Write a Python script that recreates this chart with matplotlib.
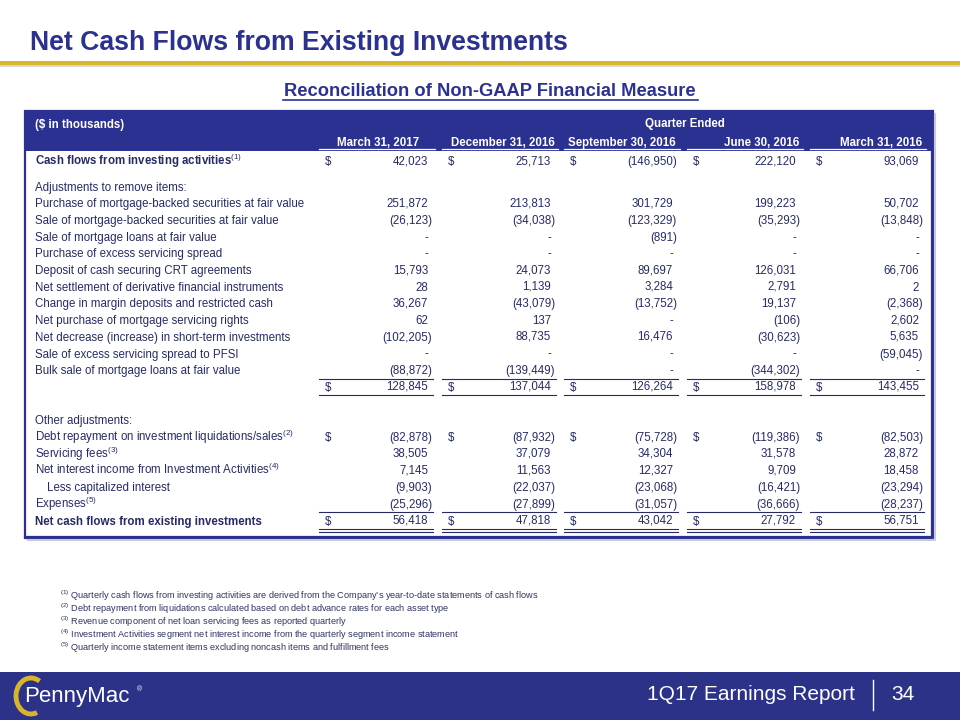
import matplotlib
matplotlib.use('Agg')
import matplotlib.pyplot as plt
from matplotlib.patches import Rectangle, Arc

plt.rcParams['font.family'] = ['Liberation Sans', 'DejaVu Sans']
plt.rcParams['mathtext.fontset'] = 'custom'
plt.rcParams['mathtext.rm'] = 'Liberation Sans'
plt.rcParams['mathtext.it'] = 'Liberation Sans:italic'
plt.rcParams['mathtext.bf'] = 'Liberation Sans:bold'

NAVY = '#2B3190'
TEXT = '#262B66'
GOLD = '#D9B52C'

# ---- data ----
quarters = ['March 31, 2017', 'December 31, 2016', 'September 30, 2016',
            'June 30, 2016', 'March 31, 2016']

cash_flows_investing = [42023, 25713, -146950, 222120, 93069]
purchase_mbs = [251872, 213813, 301729, 199223, 50702]
sale_mbs = [-26123, -34038, -123329, -35293, -13848]
sale_loans = [None, None, -891, None, None]
purchase_ess = [None, None, None, None, None]
deposit_crt = [15793, 24073, 89697, 126031, 66706]
net_settlement = [28, 1139, 3284, 2791, 2]
margin_deposits = [36267, -43079, -13752, 19137, -2368]
purchase_msr = [62, 137, None, -106, 2602]
short_term = [-102205, 88735, 16476, -30623, 5635]
sale_ess_pfsi = [None, None, None, None, -59045]
bulk_sale = [-88872, -139449, None, -344302, None]
subtotal = [128845, 137044, 126264, 158978, 143455]
debt_repayment = [-82878, -87932, -75728, -119386, -82503]
servicing_fees = [38505, 37079, 34304, 31578, 28872]
net_interest = [7145, 11563, 12327, 9709, 18458]
capitalized_interest = [-9903, -22037, -23068, -16421, -23294]
expenses = [-25296, -27899, -31057, -36666, -28237]
net_cash_flows = [56418, 47818, 43042, 27792, 56751]

footnotes = [
    "Quarterly cash flows from investing activities are derived from the Company\u2019s year-to-date statements of cash flows",
    "Debt repayment from liquidations calculated based on debt advance rates for each asset type",
    "Revenue component of net loan servicing fees as reported quarterly",
    "Investment Activities segment net interest income from the quarterly segment income statement",
    "Quarterly income statement items excluding noncash items and fulfillment fees",
]

# rows: (slot, label, values, bold, indent, dollar)
rows = [
    (0, r'Cash flows from investing activities$^{(1)}$', cash_flows_investing, True, 0, True),
    (1.5, 'Adjustments to remove items:', None, False, 0, False),
    (2.5, 'Purchase of mortgage-backed securities at fair value', purchase_mbs, False, 0, False),
    (3.5, 'Sale of mortgage-backed securities at fair value', sale_mbs, False, 0, False),
    (4.5, 'Sale of mortgage loans at fair value', sale_loans, False, 0, False),
    (5.5, 'Purchase of excess servicing spread', purchase_ess, False, 0, False),
    (6.5, 'Deposit of cash securing CRT agreements', deposit_crt, False, 0, False),
    (7.5, 'Net settlement of derivative financial instruments', net_settlement, False, 0, False),
    (8.5, 'Change in margin deposits and restricted cash', margin_deposits, False, 0, False),
    (9.5, 'Net purchase of mortgage servicing rights', purchase_msr, False, 0, False),
    (10.5, 'Net decrease (increase) in short-term investments', short_term, False, 0, False),
    (11.5, 'Sale of excess servicing spread to PFSI', sale_ess_pfsi, False, 0, False),
    (12.5, 'Bulk sale of mortgage loans at fair value', bulk_sale, False, 0, False),
    (13.5, '', subtotal, False, 0, True),
    (15.5, 'Other adjustments:', None, False, 0, False),
    (16.5, r'Debt repayment on investment liquidations/sales$^{(2)}$', debt_repayment, False, 0, True),
    (17.5, r'Servicing fees$^{(3)}$', servicing_fees, False, 0, False),
    (18.5, r'Net interest income from Investment Activities$^{(4)}$', net_interest, False, 0, False),
    (19.5, 'Less capitalized interest', capitalized_interest, False, 12, False),
    (20.5, r'Expenses$^{(5)}$', expenses, False, 0, False),
    (21.5, 'Net cash flows from existing investments', net_cash_flows, True, 0, True),
]


def fmt(v):
    if v is None:
        return '-'
    if v < 0:
        return '({:,})'.format(-v)
    return '{:,}'.format(v)


fig = plt.figure(figsize=(9.6, 7.2), dpi=100)
ax = fig.add_axes([0, 0, 1, 1])
ax.set_xlim(0, 960)
ax.set_ylim(720, 0)
ax.axis('off')

FS = 8.3

# title + gold rule
ax.text(30, 50.5, 'Net Cash Flows from Existing Investments', fontsize=19.2,
        fontweight='bold', color=NAVY, va='baseline', ha='left')
ax.add_patch(Rectangle((0, 61), 960, 4, color=GOLD, lw=0))
ax.add_patch(Rectangle((0, 65), 960, 2, color='#D6D6D6', lw=0))

ax.text(490, 96, 'Reconciliation of Non-GAAP Financial Measure', fontsize=13.2,
        fontweight='bold', color=NAVY, ha='center', va='baseline')
ax.plot([283, 698], [100, 100], color=NAVY, lw=1.2)

# table frame (with a slightly heavier right/bottom edge)
left, right, top, bottom = 25, 932, 111, 537
ax.add_patch(Rectangle((left, top), right - left, bottom - top, fill=False,
                       edgecolor=NAVY, lw=1.6))
ax.plot([right + 1, right + 1, left], [top, bottom + 1, bottom + 1], color=NAVY, lw=1.6)
ax.plot([right + 3, right + 3, left + 3], [top + 3, bottom + 3, bottom + 3],
        color='#C9CAD6', lw=1.5)
ax.add_patch(Rectangle((left, top), right - left, 40, color=NAVY, lw=0))

col_left = [319, 442, 564, 687, 810]
col_w = 116
hdr_off = [16, 3, 4, 4, 4]

ax.text(35, 128, '($ in thousands)', fontsize=FS, fontweight='bold', color='white',
        va='baseline')
ax.text(685, 127, 'Quarter Ended', fontsize=FS, fontweight='bold', color='white',
        ha='center', va='baseline')
for c, q in enumerate(quarters):
    xr = col_left[c] + col_w
    ax.text(xr - hdr_off[c], 146, q, fontsize=FS, fontweight='bold', color='white',
            ha='right', va='baseline')
    ax.plot([col_left[c], xr], [148.5, 148.5], color='white', lw=0.9)

y0, step = 161.5, 16.7
for slot, label, vals, bold, indent, dollar in rows:
    y = y0 + slot * step + 4
    if label:
        ax.text(35 + indent, y, label, fontsize=FS, color=TEXT, va='baseline',
                fontweight='bold' if bold else 'normal')
    if vals is None:
        continue
    for c, v in enumerate(vals):
        xr = col_left[c] + col_w
        if dollar:
            ax.text(col_left[c] + 9, y, '$', fontsize=FS, color=TEXT,
                    ha='center', va='baseline')
        s = fmt(v)
        xoff = 3 if s.startswith('(') else 7
        # Agg sits comma-only strings a pixel low; nudge them back onto the row
        ys = y - 1 if (',' in s and '(' not in s) else y
        ax.text(xr - xoff, ys, s, fontsize=FS, color=TEXT, ha='right',
                va='baseline')


# rules under rows
def rule(yy):
    for c in range(5):
        ax.plot([col_left[c], col_left[c] + col_w - 2], [yy, yy], color=TEXT, lw=0.8)


rule(y0 + 12.5 * step + 8.5)
rule(y0 + 13.5 * step + 8.5)
rule(y0 + 20.5 * step + 8.5)
rule(y0 + 21.5 * step + 8.5)
rule(y0 + 21.5 * step + 11)

# footnotes
for i, note in enumerate(footnotes):
    ax.text(60, 599 + i * 13, r'${}^{(%d)}$ ' % (i + 1) + note, fontsize=6.6,
            color='#2F3461', va='baseline')

# footer
ax.add_patch(Rectangle((0, 672), 960, 48, color='#2B3288', lw=0))
ax.add_patch(Arc((31, 696), 30, 36, theta1=70, theta2=300, color=GOLD, lw=3.5))
ax.text(24, 702, 'PennyMac', fontsize=16, color='white', va='baseline')
ax.text(137, 690, '\u00ae', fontsize=5, color='white', va='center')
ax.text(855, 700, '1Q17 Earnings Report', fontsize=15, color='white',
        ha='right', va='baseline')
ax.plot([873, 873], [680, 710], color='white', lw=1)
ax.text(903, 700, '34', fontsize=15, color='white', ha='center', va='baseline')

fig.savefig('out.png', dpi=100)
